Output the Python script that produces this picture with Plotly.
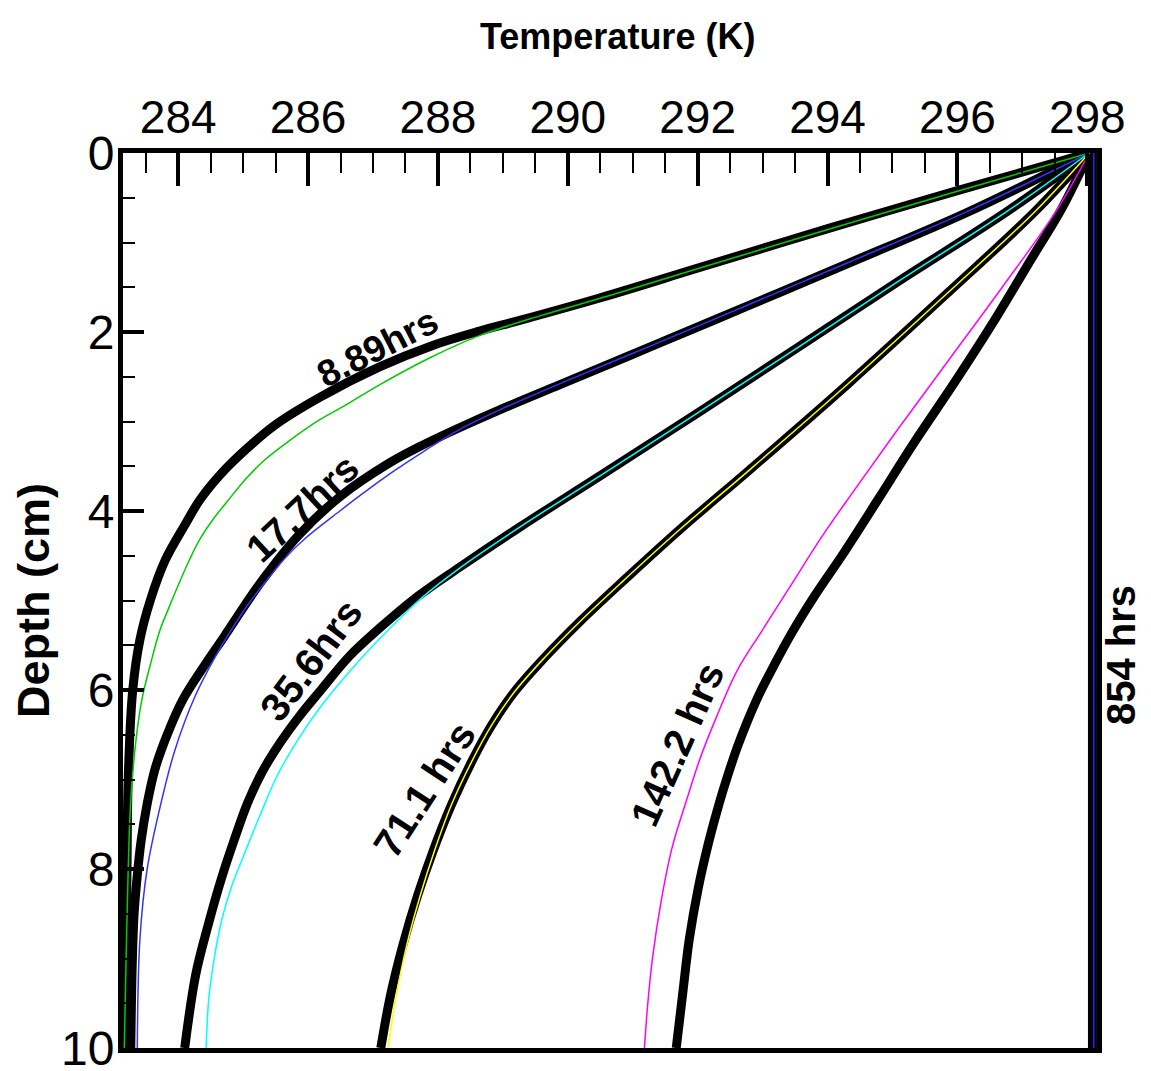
import plotly.graph_objects as go

# ---------------- data (depth in cm, temperature in K) ----------------
d_b889 = [0, 0.42, 0.84, 1.28, 1.62, 1.87, 1.99, 2.15, 2.39, 2.73, 3.04, 3.32, 3.60, 3.88, 4.16, 4.55, 5.0, 5.44, 6.0, 7.0, 8.12, 10]
t_b889 = [298.03, 296.0, 294.03, 292.03, 290.49, 289.26, 288.64, 287.92, 287.10, 286.18, 285.49, 285.03, 284.64, 284.33, 284.10, 283.80, 283.57, 283.41, 283.30, 283.23, 283.21, 283.18]

d_g889 = [0, 0.42, 0.84, 1.26, 1.59, 1.82, 2.04, 2.29, 2.59, 2.82, 2.98, 3.21, 3.43, 3.65, 3.88, 4.10, 4.32, 4.55, 4.83, 5.11, 5.33, 5.72, 6.11, 6.56, 7.23, 8.01, 8.91, 10]
t_g889 = [298.03, 296.04, 294.07, 292.15, 290.66, 289.57, 288.64, 287.87, 287.10, 286.57, 286.18, 285.72, 285.33, 285.03, 284.77, 284.53, 284.33, 284.17, 284.0, 283.84, 283.72, 283.57, 283.44, 283.35, 283.27, 283.23, 283.20, 283.17]

d_b177 = [0, 0.67, 1.23, 1.70, 2.17, 2.59, 2.87, 3.07, 3.28, 3.46, 3.84, 4.29, 4.77, 5.05, 5.39, 5.72, 6.11, 6.50, 6.89, 7.28, 7.68, 8.07, 8.51, 9.13, 10]
t_b177 = [298.03, 296.13, 294.33, 292.80, 291.26, 289.87, 288.95, 288.33, 287.72, 287.26, 286.49, 285.83, 285.30, 285.03, 284.72, 284.41, 284.07, 283.83, 283.64, 283.52, 283.43, 283.37, 283.32, 283.29, 283.27]

d_l177 = [0, 0.66, 1.22, 1.69, 2.16, 2.58, 2.87, 3.09, 3.33, 3.55, 3.79, 4.0, 4.31, 4.53, 4.76, 5.02, 5.27, 5.63, 6.07, 6.67, 7.31, 8.01, 8.79, 10]
t_l177 = [298.03, 296.13, 294.33, 292.80, 291.26, 289.87, 288.95, 288.33, 287.79, 287.33, 286.87, 286.49, 285.95, 285.64, 285.38, 285.10, 284.87, 284.57, 284.26, 283.95, 283.72, 283.52, 283.41, 283.37]

d_b356 = [0, 0.65, 1.43, 2.16, 2.89, 3.61, 4.18, 4.63, 4.98, 5.31, 5.62, 5.99, 6.29, 6.59, 6.92, 7.26, 7.68, 8.12, 8.63, 9.18, 10]
t_b356 = [298.03, 296.77, 295.10, 293.57, 292.03, 290.49, 289.26, 288.33, 287.64, 287.10, 286.64, 286.21, 285.87, 285.57, 285.29, 285.07, 284.86, 284.66, 284.46, 284.27, 284.10]

d_l356 = [0, 0.65, 1.43, 2.16, 2.89, 3.61, 4.18, 4.64, 4.97, 5.31, 5.75, 6.17, 6.56, 6.95, 7.40, 7.81, 8.18, 8.57, 9.02, 9.46, 10]
t_l356 = [298.03, 296.77, 295.10, 293.57, 292.03, 290.49, 289.26, 288.33, 287.75, 287.26, 286.69, 286.21, 285.84, 285.53, 285.26, 285.03, 284.83, 284.67, 284.55, 284.47, 284.43]

d_b711 = [0, 0.65, 1.55, 2.57, 3.54, 4.21, 4.77, 5.24, 5.64, 6.02, 6.39, 6.80, 7.28, 7.79, 8.29, 8.85, 9.41, 10]
t_b711 = [298.03, 297.20, 295.87, 294.33, 292.80, 291.72, 290.87, 290.18, 289.64, 289.18, 288.83, 288.52, 288.21, 287.93, 287.69, 287.46, 287.27, 287.12]

d_l711 = [0, 0.65, 1.55, 2.57, 3.54, 4.21, 4.77, 5.24, 5.64, 6.02, 6.39, 6.80, 7.28, 7.79, 8.29, 8.85, 9.41, 10]
t_l711 = [298.03, 297.20, 295.87, 294.33, 292.80, 291.72, 290.87, 290.18, 289.64, 289.18, 288.83, 288.52, 288.21, 287.95, 287.73, 287.52, 287.36, 287.23]

d_b1422 = [0, 0.63, 1.23, 1.87, 2.57, 3.24, 3.88, 4.49, 4.95, 5.35, 5.72, 6.06, 6.36, 6.64, 6.94, 7.27, 7.70, 8.21, 8.79, 9.39, 10]
t_b1422 = [298.03, 297.60, 297.10, 296.57, 295.95, 295.33, 294.77, 294.23, 293.80, 293.46, 293.18, 292.94, 292.76, 292.61, 292.47, 292.33, 292.17, 292.01, 291.87, 291.77, 291.67]

d_l1422 = [0, 0.65, 1.50, 2.31, 3.07, 3.77, 4.30, 4.86, 5.35, 5.78, 6.30, 6.78, 7.23, 7.75, 8.35, 9.02, 9.52, 10]
t_l1422 = [298.03, 297.52, 296.69, 295.87, 295.10, 294.41, 293.90, 293.41, 292.98, 292.61, 292.29, 292.03, 291.83, 291.61, 291.44, 291.30, 291.23, 291.18]

d_854 = [0, 10]
t_b854 = [298.08, 298.08]
t_l854 = [298.10, 298.10]

x_ticks = [284, 286, 288, 290, 292, 294, 296, 298]
y_ticks = [0, 2, 4, 6, 8, 10]

labels = ["8.89hrs", "17.7hrs", "35.6hrs", "71.1 hrs", "142.2 hrs", "854 hrs"]

# ---------------- figure ----------------
fig = go.Figure()

black_sets = [(t_b889, d_b889), (t_b177, d_b177), (t_b356, d_b356),
              (t_b711, d_b711), (t_b1422, d_b1422), (t_b854, d_854)]
for t, d in black_sets:
    fig.add_trace(go.Scatter(x=t, y=d, mode="lines",
                             line=dict(color="black", width=9, shape="spline", smoothing=1.0),
                             showlegend=False, hoverinfo="skip"))

color_sets = [(t_g889, d_g889, "#00cc00"), (t_l177, d_l177, "#3333ff"),
              (t_l356, d_l356, "#00ffff"), (t_l711, d_l711, "#ffff00"),
              (t_l1422, d_l1422, "#ff00ff"), (t_l854, d_854, "#2222ff")]
for t, d, c in color_sets:
    fig.add_trace(go.Scatter(x=t, y=d, mode="lines",
                             line=dict(color=c, width=1.5, shape="spline", smoothing=1.0),
                             showlegend=False, hoverinfo="skip"))

# page offset of the plotly div (default body margin)
OFF = 8
W, H = 1151 - OFF, 1071 - OFF
L, R, T, B = 123 - OFF, 1097 - OFF, 153 - OFF, 1048 - OFF


def px(xp, yp):
    # page pixel -> paper coordinates
    return (xp - OFF - L) / (R - L), 1 - (yp - OFF - T) / (B - T)


ann_specs = [
    (labels[0], 378, 348, -27, 37),
    (labels[1], 302, 508, -43, 39),
    (labels[2], 311, 660, -53, 40),
    (labels[3], 424, 790, -57, 40),
    (labels[4], 677, 745, -66, 40),
    (labels[5], 1121, 655, -90, 40),
]
for txt, xp, yp, ang, fs in ann_specs:
    xx, yy = px(xp, yp)
    fig.add_annotation(x=xx, y=yy, xref="paper", yref="paper", text="<b>" + txt + "</b>",
                       showarrow=False, textangle=ang,
                       font=dict(family="Liberation Sans, Arial", size=fs, color="black"),
                       xanchor="center", yanchor="middle")

tx, ty = px(617, 37)
fig.add_annotation(x=tx, y=ty, xref="paper", yref="paper",
                   text="<b>Temperature (K)</b>", showarrow=False,
                   font=dict(family="Liberation Sans, Arial", size=36, color="black"),
                   xanchor="center", yanchor="middle")

fig.update_layout(
    width=W, height=H,
    margin=dict(l=L, r=W - R, t=T, b=H - B, autoexpand=False),
    paper_bgcolor="white", plot_bgcolor="white",
    showlegend=False,
)
fig.update_xaxes(
    side="top", range=[283.15, 298.15], automargin=False,
    tickmode="array", tickvals=x_ticks, ticktext=[str(v) for v in x_ticks],
    ticks="inside", ticklen=33, tickwidth=4, tickcolor="black",
    minor=dict(dtick=0.5, tick0=283.5, ticks="inside", ticklen=20, tickwidth=2, tickcolor="black"),
    showline=True, linewidth=5, linecolor="black", mirror=True,
    showgrid=False, zeroline=False, ticklabeloverflow="allow",
    ticklabelstandoff=-3,
    tickfont=dict(family="Liberation Sans, Arial", size=46, color="black"),
)
fig.update_yaxes(
    range=[10, 0], automargin=False,
    tickmode="array", tickvals=y_ticks, ticktext=[str(v) for v in y_ticks],
    ticks="inside", ticklen=21, tickwidth=4, tickcolor="black",
    minor=dict(dtick=0.5, tick0=0, ticks="inside", ticklen=12, tickwidth=2, tickcolor="black"),
    showline=True, linewidth=5, linecolor="black", mirror=True,
    showgrid=False, zeroline=False, ticklabeloverflow="allow",
    ticklabelstandoff=-6,
    tickfont=dict(family="Liberation Sans, Arial", size=48, color="black"),
    title=dict(text="<b>Depth (cm)</b>", font=dict(family="Liberation Sans, Arial", size=45, color="black"), standoff=40),
)

fig.write_html("out.html")
